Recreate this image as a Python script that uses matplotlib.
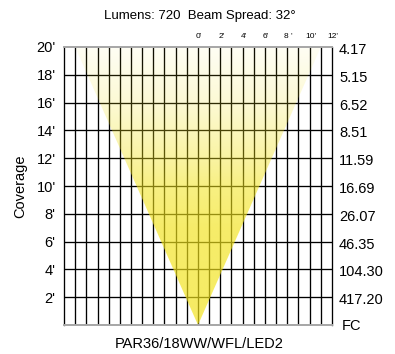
import numpy as np
import matplotlib
matplotlib.use("Agg")
import matplotlib.pyplot as plt
from matplotlib.patches import Polygon
from matplotlib.colors import to_rgb
import matplotlib.transforms as mtransforms

plt.rcParams['font.family'] = ['Liberation Sans', 'DejaVu Sans']

# Photometric data
title = "Lumens: 720  Beam Spread: 32\u00b0"
fixture = "PAR36/18WW/WFL/LED2"
coverage_ft = [2, 4, 6, 8, 10, 12, 14, 16, 18, 20]
coverage_labels = ["2'", "4'", "6'", "8'", "10'", "12'", "14'", "16'", "18'", "20'"]
fc_labels = ["417.20", "104.30", "46.35", "26.07", "16.69", "11.59", "8.51", "6.52", "5.15", "4.17"]
spread_ft = [0, 2, 4, 6, 8, 10, 12]
spread_labels = ["0'", "2'", "4'", "6'", "8 '", "10'", "12'"]
beam_height = 20
beam_half_width = 11

fig = plt.figure(figsize=(3.95, 3.54), dpi=100)
ax = fig.add_axes([64/395, 1 - 325/354, (332 - 64)/395, (325 - 47)/354])
ax.set_xlim(-12, 12)
ax.set_ylim(0, 20)

# grid
for x in range(-11, 12):
    ax.axvline(x, color='black', lw=0.95, zorder=1)
for y in coverage_ft[:-1]:
    ax.axhline(y, color='black', lw=0.95, zorder=1)

# beam cone with vertical fade
h_stops = [0, 7, 10, 12, 16, 20]
a_stops = [0.69, 0.66, 0.55, 0.41, 0.19, 0.05]
hh = np.linspace(0, beam_height, 300)
alpha = np.interp(hh, h_stops, a_stops)
rgb = to_rgb('#f2e31c')
img = np.zeros((len(hh), 1, 4))
img[:, 0, :3] = rgb
img[:, 0, 3] = alpha
im = ax.imshow(img, extent=[-beam_half_width, beam_half_width, 0, beam_height],
               origin='lower', aspect='auto', zorder=2, interpolation='bilinear')
cone = Polygon([(0, 0), (-beam_half_width, beam_height), (beam_half_width, beam_height)],
               closed=True, transform=ax.transData, facecolor='none', edgecolor='none')
ax.add_patch(cone)
im.set_clip_path(cone)

ax.set_xticks([])
ax.set_yticks(coverage_ft)
ax.set_yticklabels(coverage_labels, fontsize=10.5)
ax.tick_params(axis='y', length=0, pad=6)

for s in ['left', 'right']:
    ax.spines[s].set_color('black')
    ax.spines[s].set_linewidth(0.95)
for s in ['top', 'bottom']:
    ax.spines[s].set_color('#a6a6a6')
    ax.spines[s].set_linewidth(1.4)

# footcandle column on the right
trans_r = mtransforms.offset_copy(ax.get_yaxis_transform(), fig=fig, x=7, y=-3, units='dots')
for y, lab in zip(coverage_ft, fc_labels):
    ax.text(1.0, y, lab, transform=trans_r, ha='left', va='center', fontsize=10.5)
trans_fc = mtransforms.offset_copy(ax.get_yaxis_transform(), fig=fig, x=10, y=-1, units='dots')
ax.text(1.0, 0, "FC", transform=trans_fc, ha='left', va='center', fontsize=10.5)

# beam spread scale above the grid
trans_t = mtransforms.offset_copy(ax.get_xaxis_transform(), fig=fig, x=1, y=11, units='dots')
for x, lab in zip(spread_ft, spread_labels):
    ax.text(x, 1.0, lab, transform=trans_t, ha='center', va='center', fontsize=6)

fig.text(200/395, 1 - 16/354, title, ha='center', va='center', fontsize=9.5)
fig.text(199/395, 1 - 344/354, fixture, ha='center', va='center', fontsize=10.5)
fig.text(20/395, 1 - 186/354, "Coverage", ha='center', va='center', rotation=90, fontsize=10.5)

fig.savefig("out.png", dpi=100)
